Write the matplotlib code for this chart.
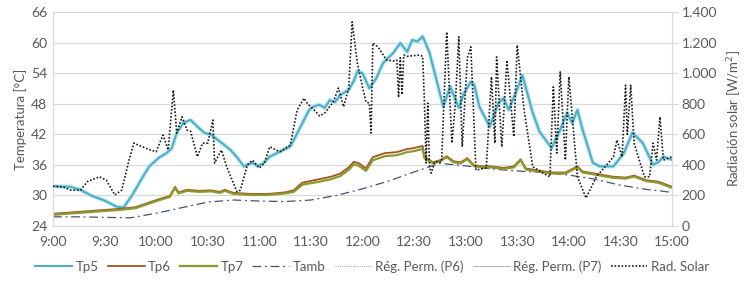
import matplotlib.pyplot as plt
import matplotlib.ticker as mticker
import numpy as np

# minutes after 9:00
tp5_t = [0, 10, 16, 22, 30, 37, 41, 46, 52, 56, 62, 66, 69, 72, 76, 80, 84, 88, 92, 97, 103, 107,
         111, 116, 119, 122, 126, 132, 138, 141, 144, 149, 152, 155, 158, 161, 164, 167, 172, 175,
         177, 180, 184, 188, 192, 198, 202, 206, 209, 212, 215, 219, 223, 227, 231, 233, 236, 239,
         243, 245, 248, 254, 259, 262, 265, 269, 273, 279, 283, 290, 295, 299, 302, 305, 308, 314,
         318, 326, 332, 337, 343, 349, 352, 355, 360]
tp5 = [31.8, 31.7, 31.1, 30.0, 29.0, 27.8, 27.6, 30.0, 33.5, 35.7, 37.5, 38.3, 39.2, 42.3, 44.3,
       44.8, 43.5, 42.3, 41.9, 40.6, 39.0, 37.5, 35.7, 36.4, 35.8, 36.2, 37.6, 38.6, 39.6, 41.5,
       43.5, 46.8, 47.5, 47.8, 47.2, 48.7, 48.3, 49.7, 50.7, 52.5, 54.3, 54.0, 51.0, 53.0, 56.0,
       58.0, 59.9, 58.2, 60.5, 60.2, 61.2, 58.0, 52.7, 47.4, 51.4, 49.7, 47.2, 50.0, 52.3, 51.7,
       47.4, 43.5, 48.1, 49.1, 46.8, 50.0, 53.6, 46.2, 42.5, 39.3, 42.9, 46.2, 44.2, 46.8, 42.9,
       36.4, 35.7, 35.7, 38.3, 42.3, 40.3, 36.0, 36.5, 37.6, 37.0]

tp_t = [0, 20, 40, 48, 55, 62, 68, 71, 73, 78, 85, 92, 97, 100, 105, 115, 125, 135, 140, 145, 155,
        162, 167, 172, 175, 178, 182, 186, 193, 200, 206, 210, 215, 216, 221, 225, 229, 233, 237,
        241, 245, 250, 255, 262, 268, 272, 275, 282, 290, 298, 305, 308, 315, 325, 333, 338, 345,
        352, 360]
tp6 = [26.4, 26.9, 27.4, 27.7, 28.5, 29.3, 29.9, 31.7, 30.6, 31.1, 30.9, 31.0, 30.7, 31.1, 30.5,
       30.3, 30.3, 30.6, 31.0, 32.5, 33.2, 33.7, 34.3, 35.5, 36.6, 36.3, 35.3, 37.5, 38.3, 38.5,
       39.1, 39.3, 39.7, 37.6, 36.5, 36.9, 37.7, 36.7, 36.5, 37.3, 35.9, 35.7, 35.7, 35.4, 35.7,
       37.1, 35.3, 34.9, 34.5, 34.5, 35.7, 34.7, 34.3, 33.7, 33.5, 33.9, 33.0, 32.7, 31.7]
tp7 = [26.2, 26.7, 27.2, 27.5, 28.3, 29.1, 29.7, 31.5, 30.4, 30.9, 30.7, 30.8, 30.5, 30.9, 30.3,
       30.1, 30.1, 30.4, 30.7, 32.1, 32.7, 33.2, 33.8, 35.0, 36.1, 35.8, 34.8, 36.9, 37.7, 37.9,
       38.5, 38.7, 39.1, 37.3, 36.3, 36.7, 37.5, 36.5, 36.3, 37.1, 35.7, 35.5, 35.5, 35.2, 35.5,
       36.9, 35.1, 34.7, 34.3, 34.3, 35.5, 34.5, 34.1, 33.5, 33.3, 33.7, 32.8, 32.5, 31.5]

tamb_t = [0, 15, 30, 45, 60, 75, 90, 105, 120, 135, 150, 165, 180, 195, 210, 225, 240, 255, 270,
          285, 300, 315, 330, 345, 360]
tamb = [25.8, 25.8, 25.7, 25.6, 26.5, 27.6, 28.7, 29.1, 28.9, 28.8, 29.1, 30.0, 31.3, 32.8, 34.6,
        36.3, 35.8, 35.2, 34.8, 34.5, 34.0, 33.2, 32.0, 31.2, 30.6]

rad_t = [0, 6, 10, 16, 20, 27, 31, 36, 40, 44, 47, 52, 56, 60, 64, 67, 70, 72, 75, 78, 80, 84, 87,
         90, 93, 94, 98, 101, 107, 109, 113, 116, 120, 123, 126, 132, 138, 142, 146, 148, 152, 155,
         158, 163, 166, 169, 172, 174, 177, 180, 182, 184, 185, 186, 189, 194, 198, 200, 201, 202,
         203, 204, 206, 210, 213, 215, 216, 217, 218, 219, 220, 222, 226, 229, 232, 234, 236, 238,
         241, 243, 246, 252, 255, 257, 258, 261, 264, 268, 270, 274, 279, 285, 289, 291, 293, 295,
         298, 300, 305, 310, 316, 322, 326, 328, 331, 333, 334, 336, 338, 341, 344, 347, 349, 351,
         353, 355, 360]
rad = [260, 255, 235, 235, 290, 322, 300, 203, 235, 420, 542, 518, 500, 486, 595, 497, 889, 608,
       714, 627, 620, 453, 542, 542, 693, 412, 497, 388, 224, 235, 399, 430, 379, 412, 518, 486,
       529, 758, 836, 800, 758, 720, 738, 812, 902, 780, 900, 1335, 1065, 910, 812, 804, 608, 1196,
       1172, 1085, 1080, 1085, 840, 1100, 860, 1118, 1110, 1115, 1118, 1110, 823, 412, 804, 380,
       346, 420, 420, 1270, 542, 800, 1237, 518, 1100, 1172, 366, 380, 976, 542, 1106, 518, 1085,
       584, 1183, 758, 388, 346, 322, 910, 477, 1008, 431, 976, 322, 183, 322, 399, 453, 562, 453,
       921, 600, 921, 542, 431, 322, 322, 542, 431, 714, 431, 453]

time_labels = ['9:00', '9:30', '10:00', '10:30', '11:00', '11:30', '12:00', '12:30',
               '13:00', '13:30', '14:00', '14:30', '15:00']

plt.rcParams['font.family'] = ['Lato', 'DejaVu Sans']
txt = '#595959'
grid_c = '#d9d9d9'

fig = plt.figure(figsize=(7.44, 2.85), dpi=100)
ax = fig.add_axes([0.0712, 0.207, 0.832, 0.751])
ax2 = ax.twinx()

l5, = ax.plot(tp5_t, tp5, color='#4bb0c6', lw=1.5, zorder=4)
ax.plot(tp5_t, tp5, color='#c6e9f0', lw=3.2, zorder=3)
l7, = ax.plot(tp_t, tp7, color='#8a9a2c', lw=1.6, zorder=5)
l6, = ax.plot(tp_t, tp6, color='#a0561c', lw=1.3, zorder=4)
la, = ax.plot(tamb_t, tamb, color='#44546a', lw=0.9, ls=(0, (7, 3, 1.5, 3)), zorder=3)
lp6, = ax.plot([], [], color='#7f7f7f', lw=0.6, ls=':')
lp7, = ax.plot([], [], color='#a6a6a6', lw=0.6)
lr, = ax2.plot(rad_t, rad, color='#1a1a1a', lw=1.2, ls=(0, (1, 1.1)), zorder=6)

ax.set_xlim(0, 360)
ax.set_ylim(24, 66)
ax.set_yticks(np.arange(24, 67, 6))
ax.set_xticks(np.arange(0, 361, 30))
ax.set_xticklabels(time_labels)
ax.grid(axis='y', color=grid_c, lw=0.9)
ax.set_axisbelow(True)
ax2.set_ylim(0, 1400)
ax2.set_yticks(np.arange(0, 1401, 200))
ax2.yaxis.set_major_formatter(mticker.FuncFormatter(lambda v, p: f'{int(v):,}'.replace(',', '.')))

for a in (ax, ax2):
    for s in a.spines.values():
        s.set_color(grid_c)
    a.spines['top'].set_visible(False)
    a.tick_params(colors=txt, labelsize=10, length=0, pad=4)
ax2.tick_params(axis='y', length=4, color=grid_c, pad=3)
ax.tick_params(axis='x', pad=7)

ax.set_ylabel('Temperatura [°C]', color=txt, fontsize=9.5, labelpad=3)
ax2.set_ylabel('Radiación solar [W/m$^2$]', color=txt, fontsize=9.5, labelpad=6)

fig.legend([l5, l6, l7, la, lp6, lp7, lr],
           ['Tp5', 'Tp6', 'Tp7', 'Tamb', 'Rég. Perm. (P6)', 'Rég. Perm. (P7)', 'Rad. Solar'],
           loc='center', bbox_to_anchor=(0.5, 0.065), ncol=7, frameon=False,
           fontsize=9.5, labelcolor=txt, handlelength=2.8, handletextpad=0.25, columnspacing=0.7)

fig.savefig('out.png', dpi=100)
